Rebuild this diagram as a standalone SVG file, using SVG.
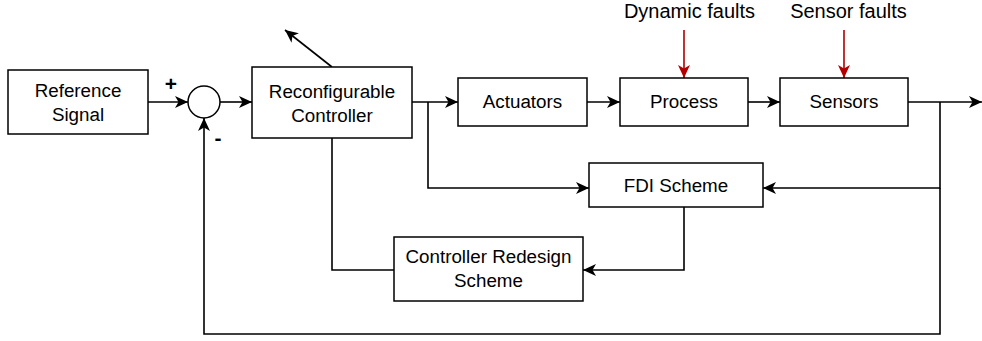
<svg xmlns="http://www.w3.org/2000/svg" width="982" height="341" viewBox="0 0 982 341">
<style>
.box{fill:#fff;stroke:#000;stroke-width:1.5}
.t{font-family:"Liberation Sans",Arial,sans-serif;font-size:18.8px;fill:#000;text-anchor:middle}
.f{font-family:"Liberation Sans",Arial,sans-serif;font-size:20px;fill:#000;text-anchor:middle}
.s{font-family:"Liberation Sans",Arial,sans-serif;font-size:21px;font-weight:bold;fill:#000;text-anchor:middle}
.c{fill:none;stroke:#000;stroke-width:1.6}
.r{fill:none;stroke:#b20000;stroke-width:1.6}
</style>
<defs>
<marker id="a" markerUnits="userSpaceOnUse" markerWidth="14" markerHeight="12" refX="13" refY="6" orient="auto">
<path d="M0,0 L13,6 L0,12 L3.5,6 z" fill="#000"/>
</marker>
<marker id="ar" markerUnits="userSpaceOnUse" markerWidth="14" markerHeight="12" refX="13" refY="6" orient="auto">
<path d="M0,0 L13,6 L0,12 L3.5,6 z" fill="#b20000"/>
</marker>
</defs>
<g id="connectors">
<line class="c" x1="148" y1="102" x2="188" y2="102" marker-end="url(#a)"/>
<line class="c" x1="220" y1="102" x2="252" y2="102" marker-end="url(#a)"/>
<line class="c" x1="332" y1="67" x2="285" y2="30" marker-end="url(#a)"/>
<line class="c" x1="412" y1="102" x2="458" y2="102" marker-end="url(#a)"/>
<line class="c" x1="587" y1="102" x2="620" y2="102" marker-end="url(#a)"/>
<line class="c" x1="748" y1="102" x2="780" y2="102" marker-end="url(#a)"/>
<line class="c" x1="908" y1="102" x2="982" y2="102" marker-end="url(#a)"/>
<polyline class="c" points="428,102 428,188 589,188" marker-end="url(#a)"/>
<polyline class="c" points="940,102 940,188 763,188" marker-end="url(#a)"/>
<polyline class="c" points="940,188 940,334 204,334 204,118" marker-end="url(#a)"/>
<polyline class="c" points="332,138 332,270 394,270"/>
<polyline class="c" points="684,207 684,270 583,270" marker-end="url(#a)"/>
<line class="r" x1="684" y1="30" x2="684" y2="78" marker-end="url(#ar)"/>
<line class="r" x1="844" y1="30" x2="844" y2="78" marker-end="url(#ar)"/>
</g>
<g id="reference">
<rect class="box" x="8" y="70" width="140" height="64"/>
<text class="t" x="78" y="97">Reference</text>
<text class="t" x="78" y="121">Signal</text>
</g>
<g id="sum">
<circle class="box" cx="204" cy="102" r="16"/>
<text class="s" x="171" y="91">+</text>
<text class="s" x="218" y="145">-</text>
</g>
<g id="controller">
<rect class="box" x="252" y="67" width="160" height="71"/>
<text class="t" x="332" y="98">Reconfigurable</text>
<text class="t" x="332" y="122">Controller</text>
</g>
<g id="actuators">
<rect class="box" x="458" y="78" width="129" height="48"/>
<text class="t" x="522.5" y="108">Actuators</text>
</g>
<g id="process">
<rect class="box" x="620" y="78" width="128" height="48"/>
<text class="t" x="684" y="108">Process</text>
</g>
<g id="sensors">
<rect class="box" x="780" y="78" width="128" height="48"/>
<text class="t" x="844" y="108">Sensors</text>
</g>
<g id="fdi">
<rect class="box" x="589" y="163" width="174" height="44"/>
<text class="t" x="676" y="192">FDI Scheme</text>
</g>
<g id="redesign">
<rect class="box" x="394" y="237" width="189" height="64"/>
<text class="t" x="488.5" y="263">Controller Redesign</text>
<text class="t" x="488.5" y="287">Scheme</text>
</g>
<g id="dynamic-faults">
<text class="f" x="689.5" y="18">Dynamic faults</text>
</g>
<g id="sensor-faults">
<text class="f" x="848.5" y="18">Sensor faults</text>
</g>
</svg>
